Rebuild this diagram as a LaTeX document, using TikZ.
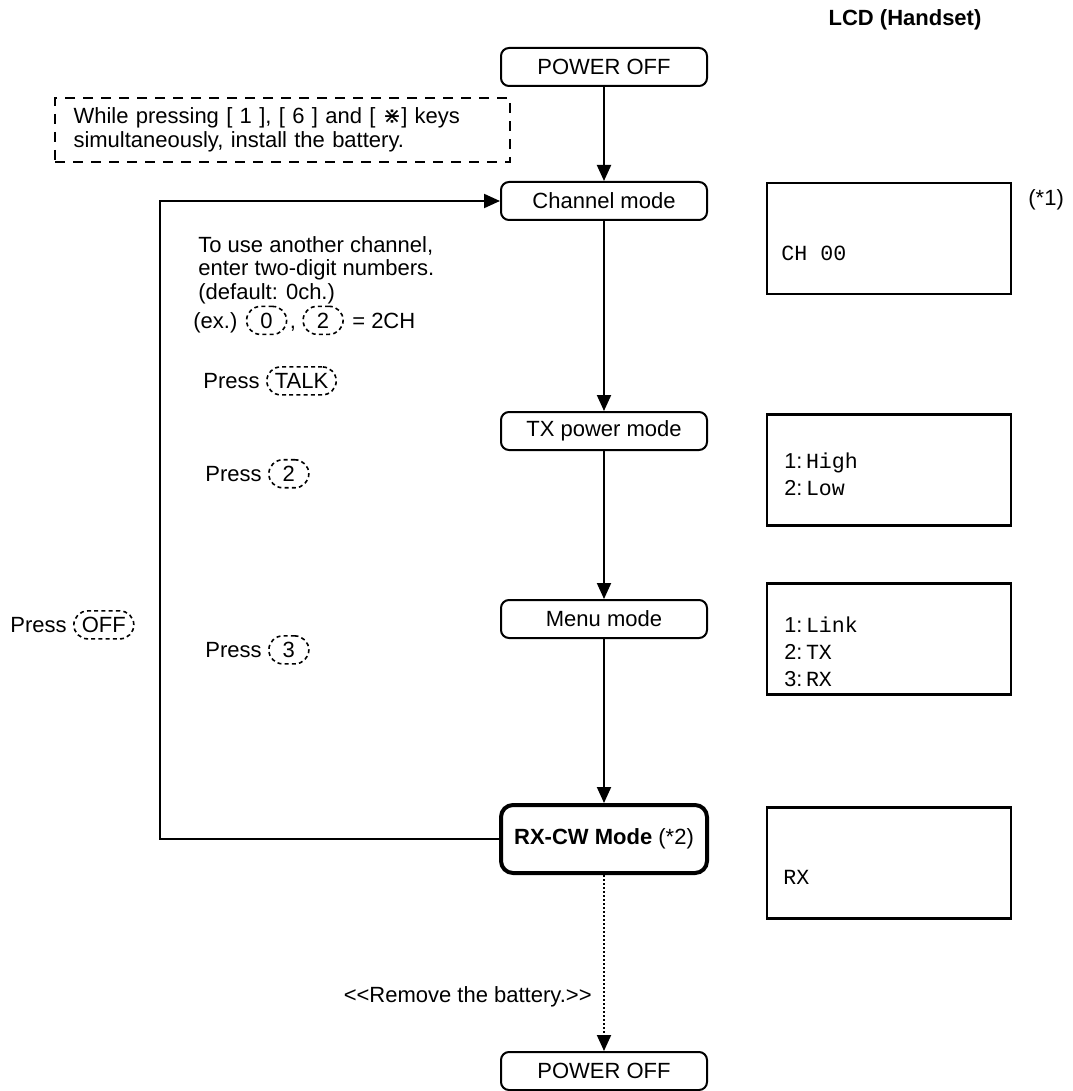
\documentclass[tikz,border=0pt]{standalone}
\usepackage{fontspec}
\setmainfont{Liberation Sans}
\setmonofont{Liberation Mono}
\newfontfamily\symfont{DejaVu Sans}
\usepackage{tikz}
\usetikzlibrary{arrows.meta, positioning}
\tikzset{
  modebox/.style={rectangle, rounded corners=4pt, draw=black, line width=1pt,
    fill=white, font=\fontsize{11}{13}\selectfont, minimum width=103pt,
    minimum height=19pt, inner sep=2pt},
  rxbox/.style={modebox, line width=2pt, rounded corners=6pt, minimum height=34pt},
  notebox/.style={rectangle, draw=black, line width=1pt, dash pattern=on 5pt off 4pt,
    font=\fontsize{11}{12}\selectfont, align=left, text width=209pt,
    inner xsep=8pt, inner ysep=4pt, minimum height=32pt},
  lcdbox/.style={rectangle, draw=black, line width=1.4pt, minimum width=122pt,
    minimum height=55.5pt},
  lcdtext/.style={font=\fontsize{10.8}{13.5}\ttfamily, align=left, anchor=west, inner sep=0pt},
  hint/.style={font=\fontsize{11}{11.8}\selectfont, align=left, inner sep=0pt},
  keycap/.style={rectangle, draw=black, line width=0.8pt, dash pattern=on 2pt off 1.6pt,
    rounded corners=7pt, minimum width=20pt, minimum height=14pt, inner xsep=4pt,
    inner ysep=1pt, font=\fontsize{11}{12}\selectfont, anchor=base west},
  flow/.style={-{Triangle[length=8pt, width=7pt]}, line width=1pt},
  flowdot/.style={flow, densely dotted},
}

\begin{document}
\begin{tikzpicture}[x=0.5pt, y=-0.5pt, node distance=2pt]
  \useasboundingbox (0,0) rectangle (1072,1091);

  % flow column
  \node[font=\fontsize{11}{13}\bfseries] (lcdtitle) at (905,20) {LCD (Handset)};
  \node[modebox] (off1) at (604,67) {POWER OFF};
  \node[modebox] (chan) at (604,201) {Channel mode};
  \node[modebox] (tx) at (604,431) {TX power mode};
  \node[modebox] (menu) at (604,619) {Menu mode};
  \node[rxbox] (rxcw) at (604,839) {\textbf{RX-CW Mode} (*2)};
  \node[modebox] (off2) at (604,1071) {POWER OFF};

  \node[notebox, minimum width=227.5pt] (note) at (282.5,130)
    {While pressing [ 1 ], [ 6 ] and [ {\symfont ⋇}] keys\\simultaneously, install the battery.};

  % LCD screens
  \node[lcdbox] (lcd1) at (889,238.5) {};
  \node[lcdtext] (lcdch) at (781,253) {CH 00};
  \node[hint, anchor=west] (note1) at (1028,200) {(*1)};
  \node[lcdbox] (lcd2) at (889,470) {};
  \node[lcdtext] (lcdhigh) at (784,474) {{\rmfamily 1:\,}High\\{\rmfamily 2:\,}Low};
  \node[lcdbox] (lcd3) at (889,639) {};
  \node[lcdtext] (lcdmenu) at (784,652) {{\rmfamily 1:\,}Link\\{\rmfamily 2:\,}TX\\{\rmfamily 3:\,}RX};
  \node[lcdbox] (lcd4) at (889,863) {};
  \node[lcdtext] (lcdrx) at (783,877) {RX};

  % hints
  \node[hint, anchor=north west] (chanhint) at (198,236)
    {To use another channel,\\enter two-digit numbers.\\(default: 0ch.)};
  \node[hint, anchor=base west] (exlabel) at (193,328) {(ex.)};
  \node[keycap] (zerokey) at ([xshift=4pt]exlabel.base east) {0};
  \node[hint, anchor=base west] (comma) at ([xshift=1pt]zerokey.base east) {,};
  \node[keycap] (twokey) at ([xshift=3pt]comma.base east) {2};
  \node[hint, anchor=base west] (eqtext) at ([xshift=4pt]twokey.base east) {= 2CH};

  \node[hint, anchor=west] (presstalk) at (203,381) {Press};
  \node[keycap] (talkkey) at ([xshift=3pt]presstalk.base east) {TALK};
  \node[hint, anchor=west] (presstwo) at (205,474) {Press};
  \node[keycap] (twokey2) at ([xshift=3pt]presstwo.base east) {2};
  \node[hint, anchor=west] (pressthree) at (205,650) {Press};
  \node[keycap] (threekey) at ([xshift=3pt]pressthree.base east) {3};
  \node[hint, anchor=west] (pressoff) at (10,625) {Press};
  \node[keycap] (offkey) at ([xshift=3pt]pressoff.base east) {OFF};

  \node[hint, anchor=east] (remove) at (592,997) {<{}<Remove the battery.>{}>};

  % connectors
  \coordinate (loopbot) at (160,839);
  \coordinate (looptop) at (160,201);
  \draw[flow] (off1) -- (chan);
  \draw[flow] (chan) -- (tx);
  \draw[flow] (tx) -- (menu);
  \draw[flow] (menu) -- (rxcw);
  \draw[flowdot] (rxcw) -- (off2);
  \draw[flow] (rxcw.west) -- (loopbot) -- (looptop) -- (chan.west);
\end{tikzpicture}
\end{document}
